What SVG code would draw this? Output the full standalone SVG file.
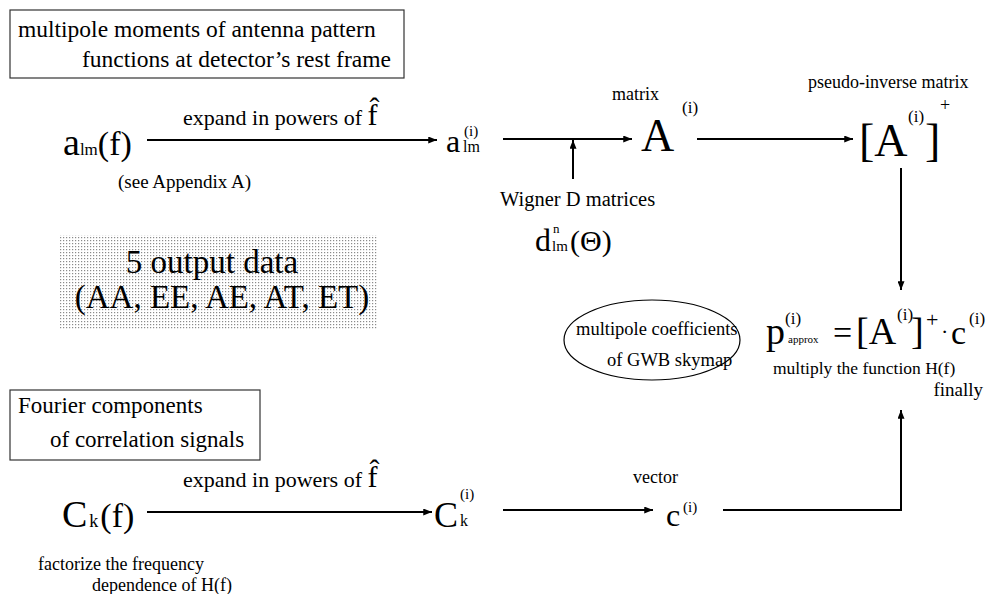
<svg xmlns="http://www.w3.org/2000/svg" width="987" height="594" viewBox="0 0 987 594" font-family="'Liberation Serif', 'DejaVu Serif', serif">
<defs>
<marker id="ah" viewBox="0 0 10 8" refX="10" refY="4" markerWidth="10" markerHeight="7" markerUnits="userSpaceOnUse" orient="auto">
<path d="M0,0 L10,4 L0,8 z" fill="#000"/>
</marker>
<pattern id="dots" width="3" height="3" patternUnits="userSpaceOnUse">
<rect width="3" height="3" fill="#fff"/>
<rect x="0" y="0" width="1.2" height="1.2" fill="#8a8a8a"/>
</pattern>
<style>
text{font-family:'Liberation Serif','DejaVu Serif',serif;fill:#000}
.box{fill:#fff;stroke:#333;stroke-width:1.2}
.arr{stroke:#000;stroke-width:2;fill:none;marker-end:url(#ah)}
</style>
</defs>
<rect width="987" height="594" fill="#fff"/>

<g id="box-antenna">
<rect class="box" x="10" y="10" width="394" height="68"/>
<text x="18" y="37" font-size="23.5">multipole moments of antenna pattern</text>
<text x="82" y="67" font-size="23.5">functions at detector’s rest frame</text>
</g>

<g id="node-alm">
<text x="63" y="155" font-size="38">a<tspan font-size="17">lm</tspan><tspan font-size="34">(f)</tspan></text>
<text x="118" y="188" font-size="19">(see Appendix A)</text>
</g>

<g id="node-alm-i">
<text x="446" y="152" font-size="32">a</text>
<text x="464" y="136" font-size="15">(i)</text>
<text x="463" y="152" font-size="16">lm</text>
</g>

<g id="node-A">
<text x="612" y="100" font-size="18">matrix</text>
<text x="641" y="151" font-size="46">A</text>
<text x="682" y="113" font-size="17">(i)</text>
</g>

<g id="node-Aplus">
<text x="808" y="88" font-size="18">pseudo-inverse matrix</text>
<text x="859" y="156" font-size="46">[A</text>
<text x="908" y="122" font-size="17">(i)</text>
<text x="925" y="156" font-size="46">]</text>
<text x="940" y="111" font-size="18">+</text>
</g>

<g id="node-wigner">
<text x="500" y="206" font-size="20.5">Wigner D matrices</text>
<text x="535" y="251" font-size="32">d</text>
<text x="553" y="233" font-size="13">n</text>
<text x="552" y="251" font-size="15">lm</text>
<text x="570" y="251" font-size="30">(Θ)</text>
</g>

<g id="node-output">
<rect x="60" y="235" width="317" height="95" fill="url(#dots)"/>
<text x="212" y="273" font-size="33" text-anchor="middle">5 output data</text>
<text x="222" y="308" font-size="33" text-anchor="middle">(AA, EE, AE, AT, ET)</text>
</g>

<g id="node-skymap">
<ellipse cx="652" cy="340" rx="88" ry="40" fill="none" stroke="#000" stroke-width="1.2"/>
<text x="576" y="335" font-size="18.5">multipole coefficients</text>
<text x="607" y="366" font-size="18.5">of GWB skymap</text>
</g>

<g id="node-p">
<text x="766" y="344" font-size="38">p</text>
<text x="785" y="324" font-size="17">(i)</text>
<text x="788" y="343" font-size="11">approx</text>
<text x="833" y="344" font-size="34">=</text>
<text x="856" y="344" font-size="38">[A</text>
<text x="897" y="320" font-size="17">(i)</text>
<text x="911" y="344" font-size="38">]</text>
<text x="926" y="327" font-size="22">+</text>
<text x="941" y="339" font-size="22">·</text>
<text x="951" y="344" font-size="34">c</text>
<text x="969" y="324" font-size="17">(i)</text>
<text x="773" y="374" font-size="17.5">multiply the function H(f)</text>
<text x="983" y="396" font-size="19" text-anchor="end">finally</text>
</g>

<g id="box-fourier">
<rect class="box" x="10" y="390" width="250" height="70"/>
<text x="18" y="413" font-size="23">Fourier components</text>
<text x="50" y="447" font-size="23">of correlation signals</text>
</g>

<g id="node-Ck">
<text x="62" y="527" font-size="38">C<tspan font-size="18" dx="2">k</tspan><tspan font-size="34" dx="2">(f)</tspan></text>
<text x="38" y="570" font-size="18">factorize the frequency</text>
<text x="92" y="591" font-size="18">dependence of H(f)</text>
</g>

<g id="node-Ck-i">
<text x="434" y="527" font-size="36">C</text>
<text x="460" y="499" font-size="15">(i)</text>
<text x="460" y="526" font-size="16">k</text>
</g>

<g id="node-c">
<text x="633" y="483" font-size="18">vector</text>
<text x="666" y="526" font-size="32">c</text>
<text x="683" y="512" font-size="15">(i)</text>
</g>

<g id="connectors">
<line class="arr" x1="147" y1="140" x2="437" y2="140"/>
<text x="183" y="125" font-size="22">expand in powers of <tspan font-size="30">f̂</tspan></text>
<line class="arr" x1="503" y1="139" x2="632" y2="139"/>
<line class="arr" x1="573" y1="179" x2="573" y2="140"/>
<line class="arr" x1="697" y1="139" x2="853" y2="139"/>
<line class="arr" x1="901" y1="168" x2="901" y2="290"/>
<line class="arr" x1="147" y1="512" x2="432" y2="512"/>
<text x="183" y="487" font-size="22">expand in powers of <tspan font-size="30">f̂</tspan></text>
<line class="arr" x1="503" y1="510" x2="653" y2="510"/>
<polyline class="arr" points="723,510 901,510 901,410"/>
</g>
</svg>
